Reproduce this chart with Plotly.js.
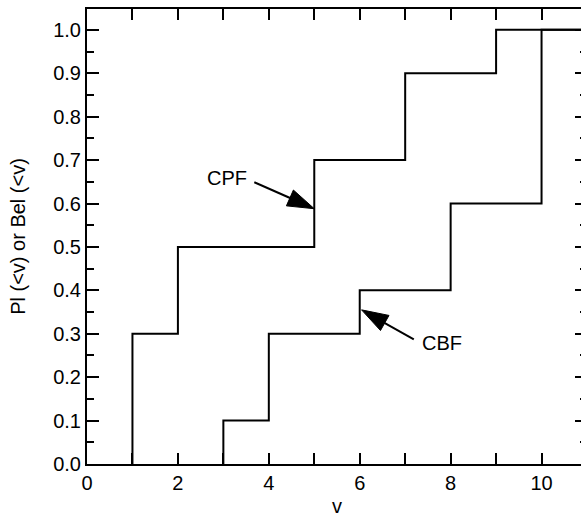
<!DOCTYPE html>
<html>
<head>
<meta charset="utf-8">
<script src="https://cdn.plot.ly/plotly-3.0.1.min.js"></script>
<style>
  html, body { margin: 0; padding: 0; overflow: hidden; background: #fff; }
  #chart { width: 600px; height: 519px; }
</style>
</head>
<body>
<div id="chart"></div>
<script>
// Data (step functions: value jumps at each x)
const cpfX = [1, 1, 2, 5, 7, 9, 11];
const cpfY = [0, 0.3, 0.5, 0.7, 0.9, 1.0, 1.0];
const cbfX = [3, 3, 4, 6, 8, 10, 11];
const cbfY = [0, 0.1, 0.3, 0.4, 0.6, 1.0, 1.0];

// Tick labels
const xTickVals = [0, 1, 2, 3, 4, 5, 6, 7, 8, 9, 10, 11];
const xTickText = ['0', '', '2', '', '4', '', '6', '', '8', '', '10', ''];
const yTickVals = [0, 0.1, 0.2, 0.3, 0.4, 0.5, 0.6, 0.7, 0.8, 0.9, 1.0];
const yTickText = ['0.0', '0.1', '0.2', '0.3', '0.4', '0.5', '0.6', '0.7', '0.8', '0.9', '1.0'];

// Callout labels and their arrows (data coordinates)
const labels = ['CPF', 'CBF'];
const labelX = [3.08, 7.81];
const labelY = [0.659, 0.278];
const tipX = [5, 6.04];
const tipY = [0.588, 0.355];
const tailX = [3.68, 7.19];
const tailY = [0.649, 0.287];

const font = { family: '"Liberation Sans", Arial, Helvetica, sans-serif', size: 20, color: '#000' };

const traces = [
  { x: cpfX, y: cpfY, mode: 'lines', line: { shape: 'hv', color: '#000', width: 2 }, cliponaxis: false, hoverinfo: 'skip' },
  { x: cbfX, y: cbfY, mode: 'lines', line: { shape: 'hv', color: '#000', width: 2 }, cliponaxis: false, hoverinfo: 'skip' }
];

for (let i = 0; i < labels.length; i++) {
  traces.push({
    x: [tailX[i], tipX[i]], y: [tailY[i], tipY[i]],
    mode: 'lines+markers',
    line: { color: '#000', width: 2 },
    marker: { symbol: 'arrow', angleref: 'previous', size: [0, 28], color: '#000', opacity: 1,
              line: { width: 1, color: '#000' } },
    opacity: 1,
    hoverinfo: 'skip'
  });
}

const annotations = labels.map((t, i) => ({
  x: labelX[i], y: labelY[i], xref: 'x', yref: 'y',
  text: t, showarrow: false, font: font,
  xanchor: 'center', yanchor: 'middle'
}));

const layout = {
  width: 600, height: 519,
  margin: { l: 87, r: 13, t: 9, b: 55 },
  paper_bgcolor: '#fff', plot_bgcolor: '#fff',
  showlegend: false,
  font: font,
  xaxis: {
    range: [0, 11], showgrid: false, zeroline: false,
    showline: true, linecolor: '#000', linewidth: 2, mirror: 'ticks',
    ticks: 'inside', ticklen: 11, tickwidth: 2, tickcolor: '#000',
    tickmode: 'array', tickvals: xTickVals, ticktext: xTickText,
    tickfont: font,
    title: { text: 'v', font: font, standoff: 6 }
  },
  yaxis: {
    range: [0, 1.048], showgrid: false, zeroline: false,
    showline: true, linecolor: '#000', linewidth: 2, mirror: 'ticks',
    ticks: 'inside', ticklen: 12, tickwidth: 2, tickcolor: '#000',
    tickmode: 'array', tickvals: yTickVals, ticktext: yTickText,
    tickfont: font,
    minor: { ticks: 'inside', ticklen: 7, tickwidth: 2, tickcolor: '#000', dtick: 0.05, tick0: 0, showgrid: false },
    title: { text: 'Pl (&lt;v) or Bel (&lt;v)', font: font, standoff: 22 }
  },
  annotations: annotations
};

Plotly.newPlot('chart', traces, layout, { displayModeBar: false, staticPlot: true });
</script>
</body>
</html>
